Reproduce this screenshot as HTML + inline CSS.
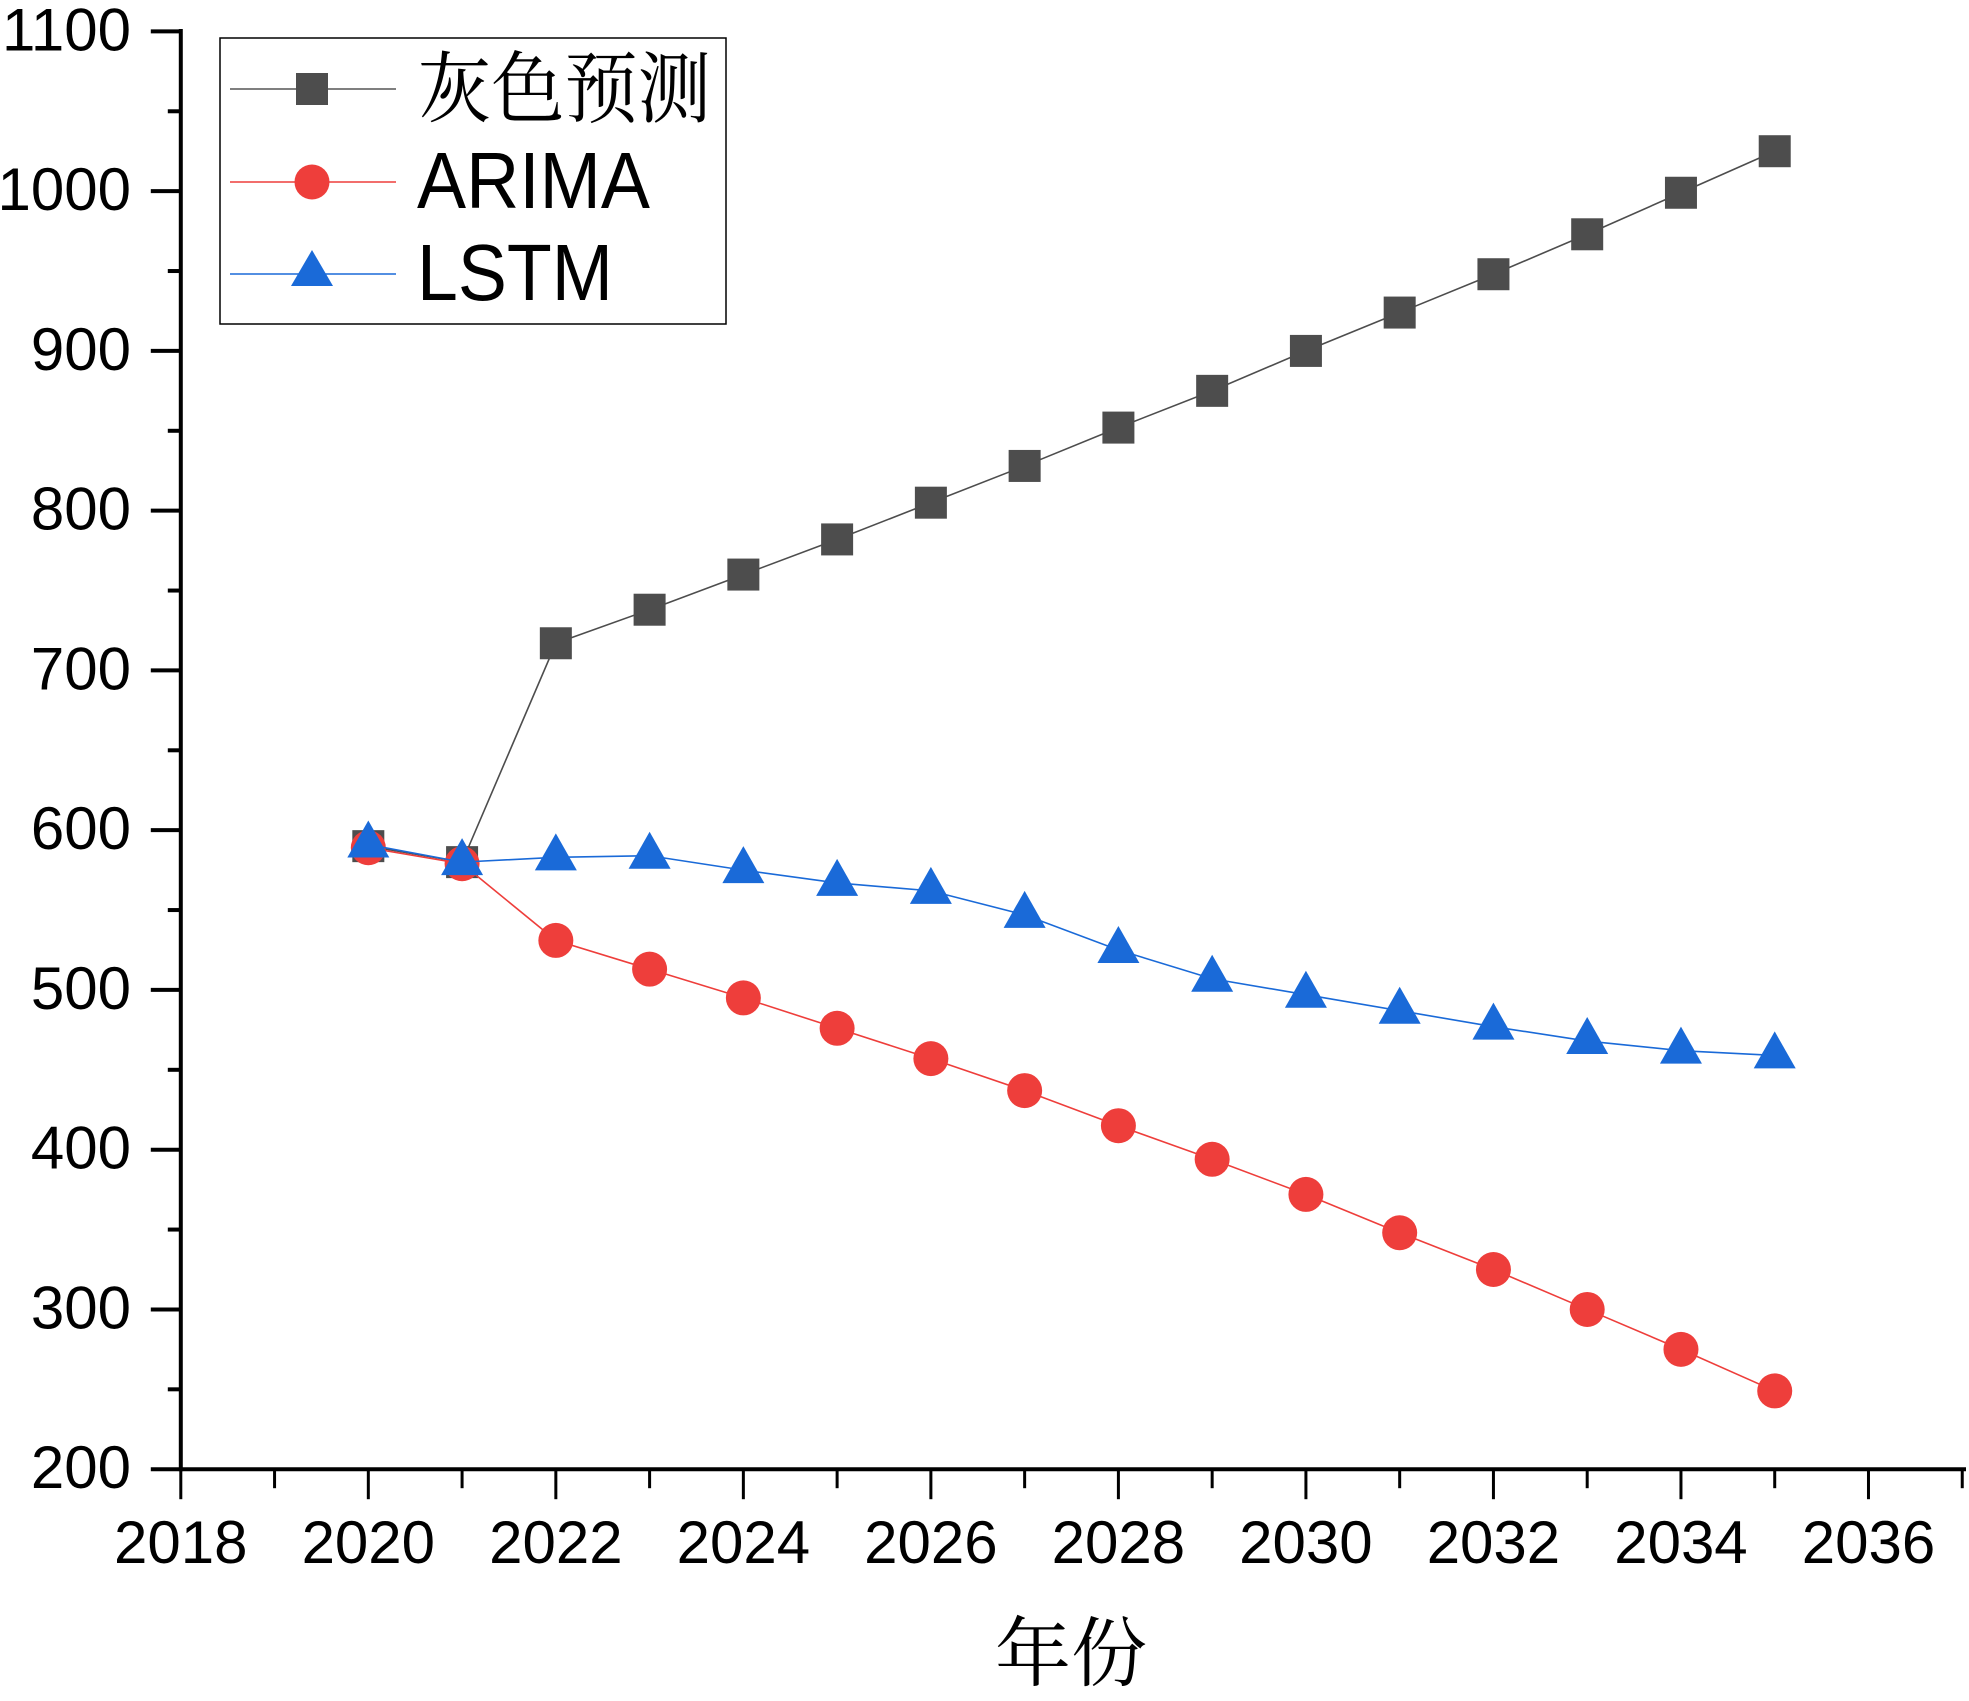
<!DOCTYPE html>
<html><head><meta charset="utf-8"><style>
html,body{margin:0;padding:0;background:#fff;}
svg{display:block;}
</style></head><body>
<svg id="chart" width="1969" height="1701" viewBox="0 0 1969 1701" xmlns="http://www.w3.org/2000/svg">
<g id="axes"></g>
<g id="series"></g>
<g id="legend">
  <rect x="220" y="38" width="506" height="286" fill="#fff" stroke="#000" stroke-width="1.5"/>
  <line x1="230" y1="89" x2="396" y2="89" stroke="#555" stroke-width="1.5"/>
  <rect x="296" y="73" width="32" height="32" fill="#4d4d4d"/>
  <text x="418" y="116" font-family="'Liberation Serif','Noto Serif CJK SC',serif" font-size="78" textLength="293" lengthAdjust="spacingAndGlyphs">灰色预测</text>
  <line x1="230" y1="182" x2="396" y2="182" stroke="#ee3e3b" stroke-width="1.5"/>
  <circle cx="312" cy="182" r="17.5" fill="#ee3e3b"/>
  <text x="417" y="208" font-family="'Liberation Sans',sans-serif" font-size="80" textLength="233" lengthAdjust="spacingAndGlyphs">ARIMA</text>
  <line x1="230" y1="274" x2="396" y2="274" stroke="#1a6ad8" stroke-width="1.5"/>
  <polygon points="312,250 291,286 333,286" fill="#1a6ad8"/>
  <text x="417" y="300" font-family="'Liberation Sans',sans-serif" font-size="80" textLength="196" lengthAdjust="spacingAndGlyphs">LSTM</text>
</g>
</svg>
<script>
const years = [2020,2021,2022,2023,2024,2025,2026,2027,2028,2029,2030,2031,2032,2033,2034,2035];
const greyValues = [590,580,717,738,760,782,805,828,852,875,900,924,948,973,999,1025];
const arimaValues = [589,579,531,513,495,476,457,437,415,394,372,348,325,300,275,249];
const lstmValues = [591,580,583,584,575,567,562,547,525,507,497,487,477,468,462,459];
const xTickLabels = ['2018','2020','2022','2024','2026','2028','2030','2032','2034','2036'];
const yTickLabels = ['200','300','400','500','600','700','800','900','1000','1100'];

const NS='http://www.w3.org/2000/svg';
const X0=180.8, XPY=93.76, XMIN=2018;
const Y200=1469.2, YP100=(1469.2-31.4)/9;
function xs(v){return X0+(v-XMIN)*XPY;}
function ys(v){return Y200-(v-200)/100*YP100;}
function mk(tag,attrs,parent){const e=document.createElementNS(NS,tag);for(const k in attrs)e.setAttribute(k,attrs[k]);parent.appendChild(e);return e;}
const axes=document.getElementById('axes');
const series=document.getElementById('series');

let a=mk('line',{x1:X0,y1:Y200,x2:1966,y2:Y200,stroke:'#000','stroke-width':4},axes);


a=mk('line',{x1:X0,y1:29,x2:X0,y2:Y200+2,stroke:'#000','stroke-width':4},axes);



for(let y=2018;y<=2037;y++){
  const major=(y%2===0);
  const t=mk('line',{x1:xs(y),y1:Y200,x2:xs(y),y2:Y200+(major?30:19),stroke:'#000','stroke-width':3},axes);
  
  
}
xTickLabels.forEach(l=>{
  const t=mk('text',{x:xs(+l),y:1563,'text-anchor':'middle','font-family':"'Liberation Sans',sans-serif",'font-size':60},axes);
  t.textContent=l;
  
  
});
for(let v=200;v<=1100;v+=50){
  const major=(v%100===0);
  const t=mk('line',{x1:X0-(major?30:13),y1:ys(v),x2:X0,y2:ys(v),stroke:'#000','stroke-width':4},axes);
  
  
}
yTickLabels.forEach(l=>{
  const t=mk('text',{x:131,y:ys(+l)+19,'text-anchor':'end','font-family':"'Liberation Sans',sans-serif",'font-size':60},axes);
  t.textContent=l;
  
  
});
const title=mk('text',{x:1071,y:1680,'text-anchor':'middle','font-family':"'Liberation Serif','Noto Serif CJK SC',serif",'font-size':76},axes);
title.textContent='年份';



function drawSeries(vals,color,shape,name){
  const g=mk('g',{},series);
  
  
  const pts=vals.map((v,i)=>xs(years[i])+','+ys(v)).join(' ');
  const pl=mk('polyline',{points:pts,fill:'none',stroke:color,'stroke-width':1.6},g);
  
  
  vals.forEach((v,i)=>{
    const cx=xs(years[i]), cy=ys(v);
    let m;
    if(shape==='square') m=mk('rect',{x:cx-16,y:cy-16,width:32,height:32,fill:color},g);
    else if(shape==='circle') m=mk('circle',{cx:cx,cy:cy,r:17.5,fill:color},g);
    else m=mk('polygon',{points:`${cx},${cy-24} ${cx-21},${cy+13} ${cx+21},${cy+13}`,fill:color},g);
    
    
  });
}
drawSeries(greyValues,'#4d4d4d','square','grey-forecast');
drawSeries(arimaValues,'#ee3e3b','circle','arima');
drawSeries(lstmValues,'#1a6ad8','triangle','lstm');
</script>
</body></html>
